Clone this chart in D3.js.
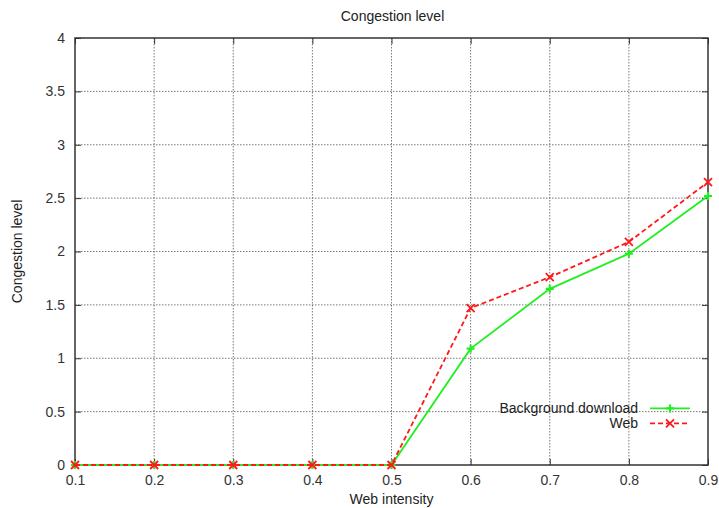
<!DOCTYPE html>
<html>
<head>
<meta charset="utf-8">
<script src="https://cdn.jsdelivr.net/npm/d3@7"></script>
<style>
  body { margin: 0; background: #fff; }
  text { font-family: "Liberation Sans", Arial, sans-serif; fill: #222; }
</style>
</head>
<body>
<svg id="chart" width="719" height="508"></svg>
<script>
/// DATA ///
var intensity = [0.1, 0.2, 0.3, 0.4, 0.5, 0.6, 0.7, 0.8, 0.9];
var background = [0, 0, 0, 0, 0, 1.09, 1.65, 1.98, 2.52];
var web = [0, 0, 0, 0, 0, 1.47, 1.76, 2.09, 2.65];
var yTicks = [0, 0.5, 1, 1.5, 2, 2.5, 3, 3.5, 4];
var xTickLabels = ["0.1", "0.2", "0.3", "0.4", "0.5", "0.6", "0.7", "0.8", "0.9"];

var margin = { top: 38, right: 11, bottom: 43, left: 75 };
var width = 719 - margin.left - margin.right;
var height = 508 - margin.top - margin.bottom;

var svg = d3.select("#chart");
var g = svg.append("g")
  .attr("transform", "translate(" + margin.left + "," + margin.top + ")");

var x = d3.scaleLinear().domain([0.1, 0.9]).range([0, width]);
var y = d3.scaleLinear().domain([0, 4]).range([height, 0]);

// grid lines
g.append("g")
  .selectAll("line")
  .data(intensity.slice(1, -1))
  .enter()
  .append("line")
  .attr("x1", function (d) { return x(d); })
  .attr("x2", function (d) { return x(d); })
  .attr("y1", 0)
  .attr("y2", height)
  .attr("stroke", "#555")
  .attr("stroke-width", 0.8)
  .attr("stroke-dasharray", "1.5,1.5");

g.append("g")
  .selectAll("line")
  .data(yTicks.slice(1, -1))
  .enter()
  .append("line")
  .attr("x1", 0)
  .attr("x2", width)
  .attr("y1", function (d) { return y(d); })
  .attr("y2", function (d) { return y(d); })
  .attr("stroke", "#555")
  .attr("stroke-width", 0.8)
  .attr("stroke-dasharray", "1.5,1.5");

// axes (ticks inside, mirrored)
var xAxis = d3.axisBottom(x).tickValues(intensity)
  .tickFormat(function (d, i) { return xTickLabels[i]; })
  .tickSizeInner(-6).tickSizeOuter(0).tickPadding(10);
var yAxis = d3.axisLeft(y).tickValues(yTicks)
  .tickFormat(function (d) { return d; })
  .tickSizeInner(-6).tickSizeOuter(0).tickPadding(10);

g.append("g").attr("transform", "translate(0," + height + ")").call(xAxis);
g.append("g").call(yAxis);
g.append("g").call(d3.axisTop(x).tickValues(intensity).tickFormat("").tickSizeInner(-6).tickSizeOuter(0));
g.append("g").attr("transform", "translate(" + width + ",0)")
  .call(d3.axisRight(y).tickValues(yTicks).tickFormat("").tickSizeInner(-6).tickSizeOuter(0));

g.selectAll(".domain").remove();
g.selectAll(".tick line").attr("stroke", "#333");
g.selectAll(".tick text").style("font-size", "14px").style("fill", "#333")
  .style("font-family", "'Liberation Sans', Arial, sans-serif");

g.append("rect")
  .attr("width", width).attr("height", height)
  .attr("fill", "none").attr("stroke", "#333").attr("stroke-width", 1.5);

// series
var series = [
  { name: "Background download", values: background, color: "#22ee22", dash: null, marker: "plus" },
  { name: "Web", values: web, color: "#ff1a1a", dash: "5,3", marker: "cross" }
];

var line = d3.line()
  .x(function (d, i) { return x(intensity[i]); })
  .y(function (d) { return y(d); });

function drawMarker(sel, type, cx, cy, color) {
  var s = 4;
  if (type === "plus") {
    sel.append("path")
      .attr("d", "M" + (cx - s) + "," + cy + "H" + (cx + s) + "M" + cx + "," + (cy - s) + "V" + (cy + s))
      .attr("stroke", color).attr("stroke-width", 2.2);
  } else {
    sel.append("path")
      .attr("d", "M" + (cx - s) + "," + (cy - s) + "L" + (cx + s) + "," + (cy + s) +
        "M" + (cx - s) + "," + (cy + s) + "L" + (cx + s) + "," + (cy - s))
      .attr("stroke", color).attr("stroke-width", 1.8);
  }
}

series.forEach(function (s) {
  g.append("path")
    .datum(s.values)
    .attr("d", line)
    .attr("fill", "none")
    .attr("stroke", s.color)
    .attr("stroke-width", 1.8)
    .attr("stroke-dasharray", s.dash);
  var mg = g.append("g");
  s.values.forEach(function (v, i) {
    drawMarker(mg, s.marker, x(intensity[i]), y(v), s.color);
  });
});

// legend
var legend = g.append("g").attr("transform", "translate(" + (width - 70) + "," + (y(0.53)) + ")");
series.forEach(function (s, i) {
  var row = legend.append("g").attr("transform", "translate(0," + (i * 15) + ")");
  row.append("text")
    .attr("x", 0).attr("y", 0).attr("dy", "0.35em")
    .attr("text-anchor", "end")
    .style("font-size", "14px")
    .text(s.name);
  row.append("line")
    .attr("x1", 12).attr("x2", 52).attr("y1", 0).attr("y2", 0)
    .attr("stroke", s.color).attr("stroke-width", 1.8)
    .attr("stroke-dasharray", s.dash);
  drawMarker(row, s.marker, 32, 0, s.color);
});

// titles
svg.append("text")
  .attr("x", margin.left + width / 2 + 1).attr("y", 21)
  .attr("text-anchor", "middle").style("font-size", "14px")
  .text("Congestion level");
svg.append("text")
  .attr("x", margin.left + width / 2).attr("y", 504)
  .attr("text-anchor", "middle").style("font-size", "14px")
  .text("Web intensity");
svg.append("text")
  .attr("transform", "translate(22," + (margin.top + height / 2) + ") rotate(-90)")
  .attr("text-anchor", "middle").style("font-size", "14px")
  .text("Congestion level");
</script>
</body>
</html>
